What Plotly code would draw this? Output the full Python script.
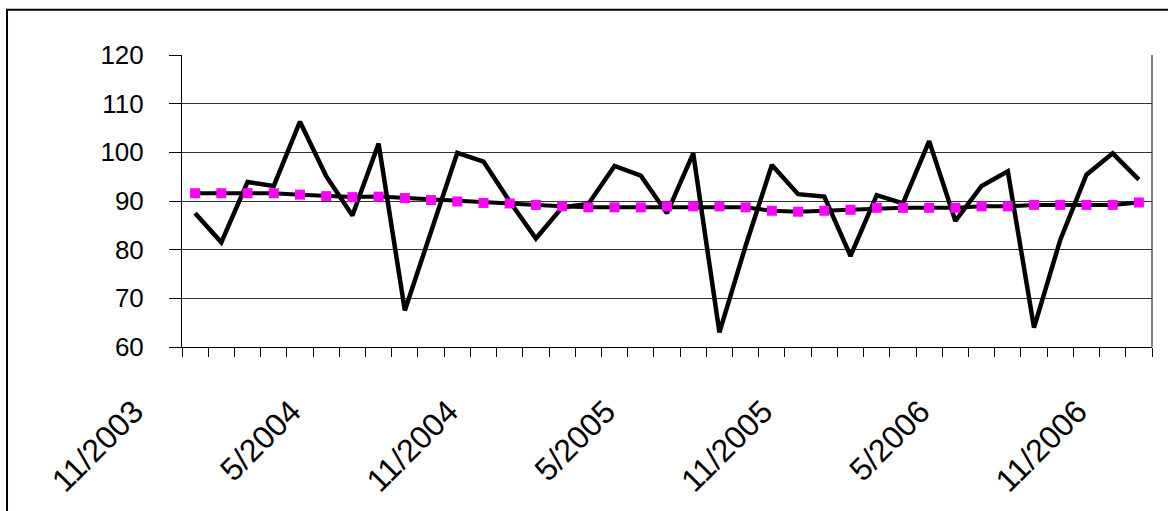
import plotly.graph_objects as go

# Monthly categories 11/2003 .. 11/2006 (37 months)
months = [f"{(10 + i) % 12 + 1}/{2003 + (10 + i) // 12}" for i in range(37)]

values = [87.5, 81.5, 93.9, 93.1, 106.3, 95.1, 87.0, 101.8, 67.5, 83.6,
          99.9, 98.1, 89.9, 82.3, 88.7, 89.4, 97.2, 95.2, 87.5, 99.8,
          63.0, 80.8, 97.4, 91.4, 90.9, 78.7, 91.2, 89.5, 102.3, 85.9,
          93.1, 96.1, 64.0, 82.0, 95.4, 99.8, 94.4]

trend = [91.6, 91.6, 91.6, 91.6, 91.3, 91.0, 90.8, 90.9, 90.6, 90.2,
         89.9, 89.6, 89.5, 89.2, 88.9, 88.7, 88.7, 88.7, 88.9, 88.9,
         88.9, 88.7, 88.0, 87.8, 88.0, 88.2, 88.6, 88.6, 88.6, 88.6,
         88.9, 88.9, 89.2, 89.2, 89.2, 89.2, 89.7]

label_every = 6
y_ticks = [60, 70, 80, 90, 100, 110, 120]

x = list(range(len(months)))
tick_idx = list(range(0, len(months), label_every))

fig = go.Figure()
fig.add_trace(go.Scatter(x=x, y=values, mode="lines",
                         line=dict(color="black", width=4.5),
                         showlegend=False, hoverinfo="skip"))
fig.add_trace(go.Scatter(x=x, y=trend, mode="lines+markers",
                         line=dict(color="black", width=4),
                         marker=dict(symbol="square", size=10, color="#FF00FF",
                                     line=dict(width=0)),
                         showlegend=False, hoverinfo="skip"))

font_family = "Liberation Sans, Arial, sans-serif"

fig.update_layout(
    width=1168, height=511,
    margin=dict(l=182, r=16, t=55, b=159),
    paper_bgcolor="white", plot_bgcolor="white",
    hovermode=False,
    xaxis=dict(
        range=[-0.5, len(months) - 0.5],
        tickmode="array",
        tickvals=tick_idx,
        ticktext=[months[i] for i in tick_idx],
        tickangle=-45,
        ticks="",
        showgrid=False, zeroline=False,
        showline=True, linecolor="black", linewidth=1,
        tickfont=dict(family=font_family, size=32, color="black"),
        ticklabelshift=-61,
        ticklabelstandoff=32,
        minor=dict(tickmode="array",
                   tickvals=[i - 0.5 for i in range(len(months) + 1)],
                   ticks="outside", ticklen=9, tickcolor="black",
                   tickwidth=1, showgrid=False),
        fixedrange=True,
    ),
    yaxis=dict(
        range=[60, 120],
        tickmode="array", tickvals=y_ticks,
        ticktext=[str(v) for v in y_ticks],
        ticks="outside", ticklen=12, tickcolor="black", tickwidth=1,
        showgrid=True, gridcolor="#303030", gridwidth=1,
        zeroline=False,
        showline=True, linecolor="black", linewidth=1,
        tickfont=dict(family=font_family, size=26, color="black"),
        ticklabelstandoff=20,
        fixedrange=True,
    ),
    shapes=[
        dict(type="rect", xref="paper", yref="paper",
             x0=-0.1804, x1=1.3, y0=-1.0, y1=1.1549,
             line=dict(color="black", width=2), fillcolor="rgba(0,0,0,0)",
             layer="above"),
        dict(type="line", xref="paper", yref="paper",
             x0=1, x1=1, y0=0, y1=1,
             line=dict(color="#808080", width=2), layer="below"),
    ],
)

fig.write_html("out.html",
               config={"displayModeBar": False, "staticPlot": True},
               post_script="document.body.style.margin='0px';")
